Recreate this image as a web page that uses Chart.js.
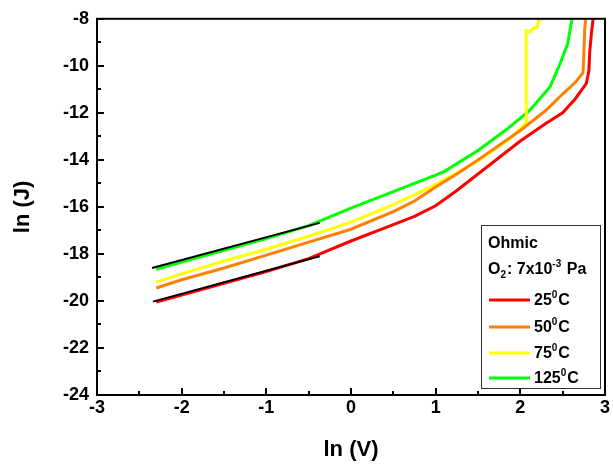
<!DOCTYPE html>
<html><head><meta charset="utf-8">
<script src="https://cdn.jsdelivr.net/npm/chart.js@4.4.1/dist/chart.umd.min.js"></script>
<style>html,body{margin:0;padding:0;background:#fff}#wrap{width:613px;height:470px;position:relative}</style>
</head><body><div id="wrap"><canvas id="c" width="613" height="470"></canvas></div>
<script>
// ---- data ----
const xTickValues = [-3, -2, -1, 0, 1, 2, 3];
const yTickValues = [-24, -22, -20, -18, -16, -14, -12, -10, -8];
const seriesLabels = ['25', '50', '75', '125'];

const x25 = [-2.3, -2.0, -1.5, -1.0, -0.5, 0, 0.5, 0.75, 1.0, 1.25, 1.5, 2.0, 2.3, 2.5, 2.65, 2.78, 2.81, 2.82, 2.84, 2.86];
const y25 = [-20.05, -19.75, -19.25, -18.75, -18.2, -17.45, -16.75, -16.4, -15.95, -15.3, -14.6, -13.2, -12.45, -12.0, -11.4, -10.75, -10.2, -9.4, -8.6, -8.0];

const x50 = [-2.3, -2.0, -1.5, -1.0, -0.5, 0, 0.5, 0.75, 1.0, 1.25, 1.5, 2.0, 2.3, 2.5, 2.65, 2.74, 2.75, 2.76, 2.77];
const y50 = [-19.45, -19.1, -18.6, -18.05, -17.5, -16.95, -16.2, -15.75, -15.15, -14.6, -14.0, -12.75, -11.9, -11.2, -10.7, -10.3, -9.5, -8.5, -8.0];

const x75 = [-2.3, -2.0, -1.5, -1.0, -0.5, 0, 0.5, 1.0, 1.5, 1.88, 2.03, 2.07, 2.07, 2.12, 2.15, 2.2, 2.22, 2.26];
const y75 = [-19.2, -18.85, -18.3, -17.8, -17.25, -16.65, -15.9, -15.05, -14.05, -13.1, -12.55, -12.4, -8.5, -8.55, -8.4, -8.35, -8.05, -8.0];

const x125 = [-2.3, -2.0, -1.5, -1.0, -0.5, 0, 0.5, 1.0, 1.1, 1.5, 1.84, 2.11, 2.35, 2.47, 2.56, 2.61];
const y125 = [-18.65, -18.35, -17.85, -17.35, -16.8, -16.05, -15.35, -14.65, -14.5, -13.6, -12.7, -11.9, -10.9, -9.9, -9.05, -8.0];

// ohmic linear fits (black)
const xFitHigh = [-2.35, -0.37];
const yFitHigh = [-18.6, -16.68];
const xFitLow = [-2.34, -0.37];
const yFitLow = [-20.03, -18.1];

// ---- styles ----
const seriesColors = ['#FF0000', '#FF8000', '#FFFF00', '#00FF00'];
const FONT = '"Liberation Sans", Arial, sans-serif';

const pts = (xs, ys) => xs.map((v, i) => ({x: v, y: ys[i]}));
const seriesX = [x25, x50, x75, x125];
const seriesY = [y25, y50, y75, y125];

const datasets = seriesLabels.map((lab, i) => ({
  label: lab + '°C',
  data: pts(seriesX[i], seriesY[i]),
  borderColor: seriesColors[i],
  backgroundColor: seriesColors[i],
  borderWidth: 3,
  pointRadius: 0,
  tension: 0,
  fill: false,
  order: 1
}));
datasets.push({label: 'fit1', data: pts(xFitHigh, yFitHigh), borderColor: '#000', borderWidth: 2, pointRadius: 0, order: 0});
datasets.push({label: 'fit2', data: pts(xFitLow, yFitLow), borderColor: '#000', borderWidth: 2, pointRadius: 0, order: 0});

function drawSuperText(ctx, x, y, parts) {
  let cx = x;
  for (const p of parts) {
    if (p.mode === 'n') {
      ctx.font = 'bold 16px ' + FONT;
      ctx.fillText(p.t, cx, y);
      cx += ctx.measureText(p.t).width;
    } else {
      ctx.font = 'bold 10px ' + FONT;
      const dy = p.mode === 'sup' ? -6 : 5;
      ctx.fillText(p.t, cx, y + dy);
      cx += ctx.measureText(p.t).width + 1;
    }
  }
}

const framePlugin = {
  id: 'frame',
  afterDraw(chart) {
    const {ctx, chartArea: a, scales: {x, y}} = chart;
    ctx.save();
    // legend box
    const lx = 481, ly = 225, lw = 119, lh = 163;
    ctx.fillStyle = '#fff';
    ctx.fillRect(lx, ly, lw, lh);
    ctx.strokeStyle = '#333';
    ctx.lineWidth = 1;
    ctx.strokeRect(lx + 0.5, ly + 0.5, lw, lh);
    ctx.fillStyle = '#000';
    ctx.textBaseline = 'middle';
    ctx.textAlign = 'left';
    drawSuperText(ctx, 488, 244, [{t: 'Ohmic', mode: 'n'}]);
    drawSuperText(ctx, 488, 270, [{t: 'O', mode: 'n'}, {t: '2', mode: 'sub'}, {t: ': 7x10', mode: 'n'}, {t: '-3', mode: 'sup'}, {t: ' Pa', mode: 'n'}]);
    const rows = [300, 327, 353, 378];
    seriesLabels.forEach((lab, i) => {
      ctx.strokeStyle = seriesColors[i];
      ctx.lineWidth = 3;
      ctx.beginPath();
      ctx.moveTo(489, rows[i]);
      ctx.lineTo(530, rows[i]);
      ctx.stroke();
      ctx.fillStyle = '#000';
      drawSuperText(ctx, 534, rows[i] + 1, [{t: lab, mode: 'n'}, {t: '0', mode: 'sup'}, {t: 'C', mode: 'n'}]);
    });
    // frame
    ctx.strokeStyle = '#000';
    ctx.lineWidth = 2;
    ctx.strokeRect(a.left, a.top, a.right - a.left, a.bottom - a.top);
    // inward ticks
    ctx.beginPath();
    for (let v = -3; v <= 3.001; v += 0.5) {
      const px = Math.round(x.getPixelForValue(v));
      const len = Math.abs(v - Math.round(v)) < 1e-6 ? 7 : 4;
      ctx.moveTo(px, a.bottom);
      ctx.lineTo(px, a.bottom - len);
    }
    for (let v = -24; v <= -8; v += 1) {
      const py = Math.round(y.getPixelForValue(v));
      const len = (v % 2 === 0) ? 7 : 4;
      ctx.moveTo(a.left, py);
      ctx.lineTo(a.left + len, py);
    }
    ctx.stroke();
    ctx.restore();
  }
};

new Chart(document.getElementById('c'), {
  type: 'line',
  data: {datasets},
  options: {
    responsive: false,
    animation: false,
    devicePixelRatio: 1,
    layout: {padding: {top: 15, right: 8, left: 0, bottom: 0}},
    plugins: {legend: {display: false}, tooltip: {enabled: false}},
    scales: {
      x: {
        type: 'linear', min: -3, max: 3,
        afterBuildTicks: s => { s.ticks = xTickValues.map(v => ({value: v})); },
        afterFit: s => { s.height = 75; },
        grid: {display: false, drawTicks: false},
        border: {display: false},
        ticks: {color: '#000', padding: 2, font: {family: FONT, size: 18, weight: 'bold'}, maxRotation: 0},
        title: {display: true, text: 'ln (V)', color: '#000', font: {family: FONT, size: 22, weight: 'bold'}, padding: {top: 0, bottom: 7}}
      },
      y: {
        type: 'linear', min: -24, max: -8,
        afterBuildTicks: s => { s.ticks = yTickValues.map(v => ({value: v})); },
        afterFit: s => { s.width = 97; },
        grid: {display: false, drawTicks: false},
        border: {display: false},
        ticks: {color: '#000', padding: 8, font: {family: FONT, size: 18, weight: 'bold'}},
        title: {display: true, text: 'ln (J)', color: '#000', font: {family: FONT, size: 22, weight: 'bold'}, padding: {top: 10, bottom: 0}}
      }
    }
  },
  plugins: [framePlugin]
});
</script>
</body></html>
